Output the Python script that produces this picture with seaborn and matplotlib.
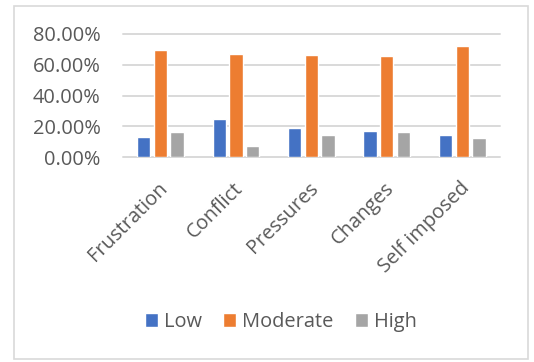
import matplotlib
matplotlib.use("Agg")
import matplotlib.pyplot as plt
import matplotlib.transforms as mtransforms
from matplotlib.patches import Rectangle
from matplotlib.ticker import PercentFormatter, FixedLocator
import seaborn as sns
import pandas as pd

# Stressor categories and share of respondents per stress level
categories = ["Frustration", "Conflict", "Pressures", "Changes", "Self imposed"]
levels = ["Low", "Moderate", "High"]
low = [0.129, 0.247, 0.189, 0.170, 0.144]
moderate = [0.697, 0.667, 0.660, 0.654, 0.720]
high = [0.163, 0.075, 0.142, 0.163, 0.123]
yticks = [0.0, 0.2, 0.4, 0.6, 0.8]

colors = ["#4472C4", "#ED7D31", "#A5A5A5"]
text_color = "#595959"
grid_color = "#D9D9D9"
font_size = 14.4

df = pd.DataFrame({
    "Category": categories * 3,
    "Level": [levels[0]] * 5 + [levels[1]] * 5 + [levels[2]] * 5,
    "Share": low + moderate + high,
})

sns.set_theme(style="white")
plt.rcParams["font.family"] = ["Open Sans", "DejaVu Sans"]

W, H = 534, 362
fig = plt.figure(figsize=(W / 100, H / 100), dpi=100)
fig.patch.set_facecolor("white")

ax = fig.add_axes([122.7 / W, 1 - 157.3 / H, (500 - 122.7) / W, (157.3 - 33.7) / H])

sns.barplot(
    data=df, x="Category", y="Share", hue="Level",
    order=categories, hue_order=levels, palette=colors,
    width=0.663, gap=0.2, saturation=1, ax=ax, legend=True,
)

ax.set_ylim(0, 0.8)
ax.set_xlim(-0.5, len(categories) - 0.5)
ax.yaxis.set_major_locator(FixedLocator(yticks))
ax.yaxis.set_major_formatter(PercentFormatter(xmax=1, decimals=2))
ax.set_axisbelow(True)
ax.yaxis.grid(True, color=grid_color, linewidth=1.4)
for line in ax.get_ygridlines():
    line.set_clip_on(False)
for s in ax.spines.values():
    s.set_visible(False)
ax.set_xlabel("")
ax.set_ylabel("")

ax.tick_params(axis="y", length=0, pad=16, labelsize=font_size, labelcolor=text_color)
ax.tick_params(axis="x", length=0, pad=0, labelsize=font_size, labelcolor=text_color)

offset = mtransforms.ScaledTranslation(-3 / 100, -21 / 100, fig.dpi_scale_trans)
for lbl in ax.get_xticklabels():
    lbl.set_rotation(45)
    lbl.set_horizontalalignment("right")
    lbl.set_verticalalignment("top")
    lbl.set_rotation_mode("anchor")
    lbl.set_transform(lbl.get_transform() + offset)

handles, labels = ax.get_legend_handles_labels()
ax.get_legend().remove()
leg = fig.legend(
    handles, labels, loc="center", bbox_to_anchor=(281 / W, 1 - 322 / H),
    ncol=3, frameon=False, fontsize=font_size, handlelength=0.65, handleheight=0.65,
    handletextpad=0.3, columnspacing=1.05, borderaxespad=0,
)
for t in leg.get_texts():
    t.set_color(text_color)

# light outer border around the chart area
fig.patches.append(Rectangle(
    (13.5 / W, 1 - 358.5 / H), (527.5 - 13.5) / W, (358.5 - 5.5) / H,
    transform=fig.transFigure, fill=False, edgecolor=grid_color, linewidth=1.2,
))

fig.savefig("out.png", dpi=100, facecolor="white")
